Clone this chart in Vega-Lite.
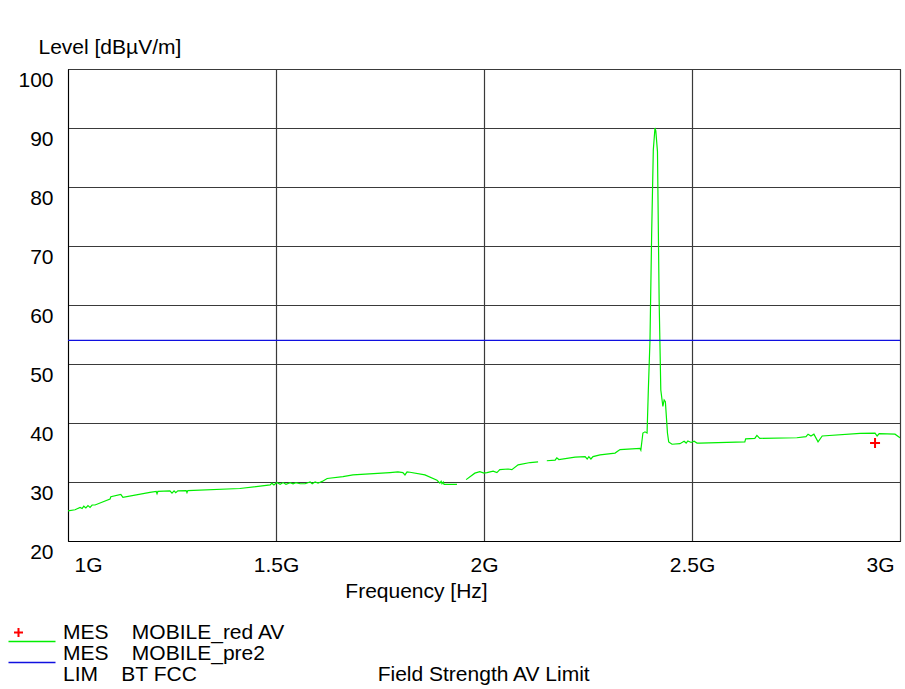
{
  "$schema": "https://vega.github.io/schema/vega-lite/v6.json",
  "width": 832,
  "height": 472,
  "autosize": {"type": "none"},
  "padding": {"left": 68, "top": 69, "right": 5, "bottom": 148},
  "background": "white",
  "config": {
    "font": "Liberation Sans",
    "view": {"stroke": "#000", "strokeWidth": 1},
    "axis": {
      "labelFont": "Liberation Sans", "labelFontSize": 21, "labelColor": "#000",
      "titleFont": "Liberation Sans", "titleFontSize": 21, "titleFontWeight": "normal", "titleColor": "#000",
      "grid": true, "gridColor": "#3a3a3a", "gridWidth": 1.2, "gridOpacity": 1,
      "ticks": false, "tickSize": 0, "domain": true, "domainColor": "#000", "domainWidth": 1,
      "labelOverlap": false, "labelBound": false
    }
  },
  "layer": [
    {
      "data": {"values": [
        {"f":1.000,"v":25.1,"seg":1},{"f":1.017,"v":25.3,"seg":1},{"f":1.029,"v":25.7,"seg":1},{"f":1.034,"v":25.5,"seg":1},{"f":1.038,"v":25.9,"seg":1},{"f":1.043,"v":25.6,"seg":1},{"f":1.048,"v":26.0,"seg":1},{"f":1.053,"v":25.7,"seg":1},{"f":1.058,"v":26.1,"seg":1},{"f":1.065,"v":26.1,"seg":1},{"f":1.101,"v":27.1,"seg":1},{"f":1.103,"v":27.5,"seg":1},{"f":1.127,"v":27.9,"seg":1},{"f":1.132,"v":27.4,"seg":1},{"f":1.197,"v":28.25,"seg":1},{"f":1.212,"v":28.4,"seg":1},{"f":1.214,"v":28.0,"seg":1},{"f":1.216,"v":28.4,"seg":1},{"f":1.245,"v":28.5,"seg":1},{"f":1.250,"v":28.1,"seg":1},{"f":1.255,"v":28.5,"seg":1},{"f":1.259,"v":28.2,"seg":1},{"f":1.264,"v":28.5,"seg":1},{"f":1.284,"v":28.55,"seg":1},{"f":1.286,"v":28.2,"seg":1},{"f":1.288,"v":28.55,"seg":1},{"f":1.413,"v":28.9,"seg":1},{"f":1.486,"v":29.5,"seg":1},{"f":1.490,"v":29.8,"seg":1},{"f":1.495,"v":29.5,"seg":1},{"f":1.502,"v":29.9,"seg":1},{"f":1.510,"v":29.6,"seg":1},{"f":1.517,"v":29.9,"seg":1},{"f":1.524,"v":29.6,"seg":1},{"f":1.534,"v":29.9,"seg":1},{"f":1.541,"v":29.7,"seg":1},{"f":1.548,"v":29.9,"seg":1},{"f":1.558,"v":29.7,"seg":1},{"f":1.570,"v":29.7,"seg":1},{"f":1.582,"v":30.0,"seg":1},{"f":1.587,"v":29.7,"seg":1},{"f":1.594,"v":30.0,"seg":1},{"f":1.601,"v":29.8,"seg":1},{"f":1.611,"v":30.1,"seg":1},{"f":1.623,"v":30.6,"seg":1},{"f":1.661,"v":30.9,"seg":1},{"f":1.685,"v":31.2,"seg":1},{"f":1.774,"v":31.6,"seg":1},{"f":1.793,"v":31.7,"seg":1},{"f":1.805,"v":31.6,"seg":1},{"f":1.810,"v":31.2,"seg":1},{"f":1.815,"v":31.7,"seg":1},{"f":1.822,"v":31.65,"seg":1},{"f":1.858,"v":31.2,"seg":1},{"f":1.887,"v":30.3,"seg":1},{"f":1.894,"v":29.8,"seg":1},{"f":1.897,"v":30.1,"seg":1},{"f":1.899,"v":29.7,"seg":1},{"f":1.902,"v":30.0,"seg":1},{"f":1.904,"v":29.6,"seg":1},{"f":1.935,"v":29.6,"seg":1},
        {"f":1.957,"v":30.4,"seg":2},{"f":1.978,"v":31.5,"seg":2},{"f":1.990,"v":31.75,"seg":2},{"f":2.000,"v":31.5,"seg":2},{"f":2.007,"v":31.6,"seg":2},{"f":2.022,"v":31.85,"seg":2},{"f":2.031,"v":31.6,"seg":2},{"f":2.038,"v":32.1,"seg":2},{"f":2.058,"v":32.2,"seg":2},{"f":2.067,"v":32.1,"seg":2},{"f":2.082,"v":32.9,"seg":2},{"f":2.111,"v":33.3,"seg":2},{"f":2.130,"v":33.4,"seg":2},
        {"f":2.151,"v":33.6,"seg":3},{"f":2.171,"v":33.7,"seg":3},{"f":2.175,"v":34.1,"seg":3},{"f":2.180,"v":33.8,"seg":3},{"f":2.219,"v":34.2,"seg":3},{"f":2.243,"v":34.3,"seg":3},{"f":2.248,"v":33.9,"seg":3},{"f":2.252,"v":34.3,"seg":3},{"f":2.257,"v":33.9,"seg":3},{"f":2.262,"v":34.3,"seg":3},{"f":2.279,"v":34.6,"seg":3},{"f":2.315,"v":34.9,"seg":3},{"f":2.327,"v":35.5,"seg":3},{"f":2.375,"v":35.7,"seg":3},{"f":2.377,"v":35.4,"seg":3},{"f":2.382,"v":38.3,"seg":3},{"f":2.387,"v":38.5,"seg":3},{"f":2.392,"v":38.3,"seg":3},{"f":2.395,"v":45.5,"seg":3},{"f":2.399,"v":54.0,"seg":3},{"f":2.403,"v":72.0,"seg":3},{"f":2.407,"v":86.3,"seg":3},{"f":2.411,"v":90.0,"seg":3},{"f":2.413,"v":89.5,"seg":3},{"f":2.417,"v":86.0,"seg":3},{"f":2.421,"v":60.8,"seg":3},{"f":2.425,"v":45.6,"seg":3},{"f":2.430,"v":42.8,"seg":3},{"f":2.433,"v":43.9,"seg":3},{"f":2.436,"v":43.6,"seg":3},{"f":2.441,"v":38.3,"seg":3},{"f":2.444,"v":36.8,"seg":3},{"f":2.452,"v":36.4,"seg":3},{"f":2.471,"v":36.5,"seg":3},{"f":2.481,"v":36.9,"seg":3},{"f":2.486,"v":36.6,"seg":3},{"f":2.490,"v":36.95,"seg":3},{"f":2.498,"v":36.7,"seg":3},{"f":2.505,"v":36.9,"seg":3},{"f":2.512,"v":36.6,"seg":3},{"f":2.519,"v":36.6,"seg":3},{"f":2.627,"v":36.8,"seg":3},{"f":2.629,"v":37.3,"seg":3},{"f":2.651,"v":37.4,"seg":3},{"f":2.656,"v":37.9,"seg":3},{"f":2.663,"v":37.4,"seg":3},{"f":2.752,"v":37.5,"seg":3},{"f":2.774,"v":37.7,"seg":3},{"f":2.779,"v":38.1,"seg":3},{"f":2.786,"v":37.8,"seg":3},{"f":2.793,"v":38.1,"seg":3},{"f":2.803,"v":36.8,"seg":3},{"f":2.813,"v":37.8,"seg":3},{"f":2.904,"v":38.25,"seg":3},{"f":2.940,"v":38.3,"seg":3},{"f":2.945,"v":37.8,"seg":3},{"f":2.950,"v":38.2,"seg":3},{"f":2.988,"v":38.1,"seg":3},{"f":3.000,"v":37.5,"seg":3}
      ]},
      "mark": {"type": "line", "strokeWidth": 1.2, "clip": true},
      "encoding": {
        "x": {"field": "f", "type": "quantitative",
          "scale": {"domain": [1, 3], "nice": false, "zero": false},
          "axis": {"values": [1, 1.5, 2, 2.5, 3], "labelExpr": "datum.value + 'G'",
            "title": "Frequency [Hz]", "titleX": 348, "titleY": 50, "titleAlign": "center", "titleBaseline": "middle", "titleAnchor": null,
            "labelFlush": true, "labelFlushOffset": -6, "labelPadding": 13, "labelBaseline": "top",
            "encode": {"labels": {"update": {"dx": {"signal": "datum.value === 1.5 || datum.value === 2.5 ? -6 : 0"}}}}}},
        "y": {"field": "v", "type": "quantitative",
          "scale": {"domain": [20, 100], "nice": false, "zero": false},
          "axis": {"values": [20, 30, 40, 50, 60, 70, 80, 90, 100],
            "title": "Level [dBµV/m]", "titleAngle": 0, "titleX": -30, "titleY": -22, "titleAlign": "left", "titleBaseline": "middle", "titleAnchor": null,
            "labelPadding": 15, "labelOffset": 11, "labelBaseline": "middle", "labelAlign": "right", "labelFlush": false}},
        "detail": {"field": "seg", "type": "nominal"},
        "color": {"datum": "MOBILE_pre2", "type": "nominal",
          "scale": {"domain": ["MOBILE_red AV", "MOBILE_pre2", "BT FCC"], "range": ["#ff0000", "#00ee00", "#1010e0"]},
          "legend": {
            "orient": "none", "legendX": -30, "legendY": 553, "title": null,
            "padding": 0, "symbolSize": 100, "symbolOffset": 0, "labelOffset": 4, "rowPadding": -6,
            "labelFont": "Liberation Sans", "labelFontSize": 21, "labelColor": "#000", "labelLimit": 1000,
            "labelExpr": "datum.value === 'MOBILE_red AV' ? 'MES\u00a0\u00a0\u00a0\u00a0MOBILE_red AV' : datum.value === 'MOBILE_pre2' ? 'MES\u00a0\u00a0\u00a0\u00a0MOBILE_pre2' : pad('LIM\u00a0\u00a0\u00a0\u00a0BT FCC', 44, '\u00a0') + 'Field Strength AV Limit'",
            "encode": {
              "symbols": {"update": {
                "shape": {"signal": "datum.value === 'MOBILE_red AV' ? 'M-6.9,0H-5.1M-6,-0.9V0.9' : 'M-8,-2.4H1.4'"},
                "fill": {"value": "transparent"},
                "strokeWidth": {"signal": "datum.value === 'MOBILE_red AV' ? 2 : 1.3"},
                "opacity": {"value": 1}
              }}
            }
          }}
      }
    },
    {
      "data": {"values": [{"f": 1, "v": 54}, {"f": 3, "v": 54}]},
      "mark": {"type": "line", "strokeWidth": 1.3},
      "encoding": {
        "x": {"field": "f", "type": "quantitative"},
        "y": {"field": "v", "type": "quantitative"},
        "color": {"datum": "BT FCC", "type": "nominal"}
      }
    },
    {
      "data": {"values": [{"f": 2.94, "v": 36.6}]},
      "mark": {"type": "point", "shape": "M-1,0H1M0,-1V1", "filled": false, "size": 100, "strokeWidth": 2, "opacity": 1},
      "encoding": {
        "x": {"field": "f", "type": "quantitative"},
        "y": {"field": "v", "type": "quantitative"},
        "color": {"datum": "MOBILE_red AV", "type": "nominal"}
      }
    }
  ]
}
